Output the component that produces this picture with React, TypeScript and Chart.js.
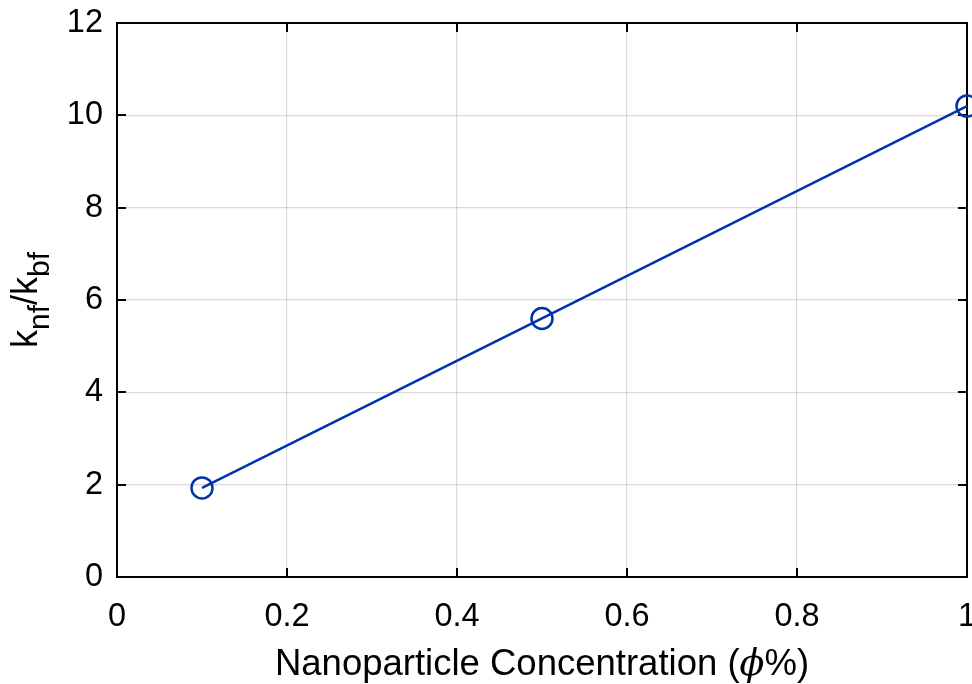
import React, { useEffect, useRef } from "react";
import { Chart, registerables } from "chart.js";

Chart.register(...registerables);

const concentrations = [0.1, 0.5, 1.0];
const ratios = [1.93, 5.6, 10.2];
const xTickValues = [0, 0.2, 0.4, 0.6, 0.8, 1];
const yTickValues = [0, 2, 4, 6, 8, 10, 12];
const xTitleParts = ["Nanoparticle Concentration (", "\u03D5", "%)"];
const yTitleParts = [
  { text: "k", sub: false },
  { text: "nf", sub: true },
  { text: "/k", sub: false },
  { text: "bf", sub: true },
];

const FONT = '"Liberation Sans", Arial, sans-serif';
const LINE_COLOR = "#0033AA";

const framePlugin = {
  id: "frame",
  beforeDatasetsDraw(chart: any) {
    const { ctx, chartArea, scales } = chart;
    const { left, right, top, bottom } = chartArea;
    const xs = scales.x;
    const ys = scales.y;
    ctx.save();
    ctx.strokeStyle = "#000";
    ctx.lineWidth = 2;
    ctx.beginPath();
    xs.ticks.forEach((t: any) => {
      const px = Math.round(xs.getPixelForValue(t.value));
      ctx.moveTo(px, bottom);
      ctx.lineTo(px, bottom - 9);
      ctx.moveTo(px, top);
      ctx.lineTo(px, top + 9);
    });
    ys.ticks.forEach((t: any) => {
      const py = Math.round(ys.getPixelForValue(t.value));
      ctx.moveTo(left, py);
      ctx.lineTo(left + 9, py);
      ctx.moveTo(right, py);
      ctx.lineTo(right - 9, py);
    });
    ctx.stroke();
    ctx.strokeRect(left, top, right - left, bottom - top);
    ctx.restore();
  },
  afterDraw(chart: any) {
    const { ctx, chartArea } = chart;
    const { left, right, top, bottom } = chartArea;
    ctx.save();
    ctx.fillStyle = "#000";
    ctx.textBaseline = "alphabetic";
    ctx.textAlign = "left";

    // X title
    const mainFont = `36.5px ${FONT}`;
    const phiFont = `italic 36.5px "DejaVu Serif", "Liberation Serif", serif`;
    const fonts = [mainFont, phiFont, mainFont];
    let total = 0;
    const widths = xTitleParts.map((p, i) => {
      ctx.font = fonts[i];
      const w = ctx.measureText(p).width;
      total += w;
      return w;
    });
    let cx = (left + right) / 2 - total / 2;
    const baseY = 675;
    xTitleParts.forEach((p, i) => {
      ctx.font = fonts[i];
      ctx.fillText(p, cx, baseY);
      cx += widths[i];
    });

    // Y title (rotated, with subscripts)
    const mainY = `36px ${FONT}`;
    const subY = `30px ${FONT}`;
    let tot = 0;
    const ws = yTitleParts.map((p) => {
      ctx.font = p.sub ? subY : mainY;
      const w = ctx.measureText(p.text).width;
      tot += w;
      return w;
    });
    ctx.translate(37, (top + bottom) / 2);
    ctx.rotate(-Math.PI / 2);
    let pos = -tot / 2;
    yTitleParts.forEach((p, i) => {
      ctx.font = p.sub ? subY : mainY;
      ctx.fillText(p.text, pos, p.sub ? 12 : 0);
      pos += ws[i];
    });
    ctx.restore();
  },
};

export default function App() {
  const canvasRef = useRef<HTMLCanvasElement>(null);

  useEffect(() => {
    const canvas = canvasRef.current;
    if (!canvas) return;
    const chart = new Chart(canvas, {
      type: "line",
      data: {
        datasets: [
          {
            data: concentrations.map((c, i) => ({ x: c, y: ratios[i] })),
            borderColor: LINE_COLOR,
            borderWidth: 2.5,
            pointRadius: 10.5,
            pointHoverRadius: 10.5,
            pointBorderWidth: 2.5,
            pointBorderColor: LINE_COLOR,
            pointBackgroundColor: "rgba(0,0,0,0)",
            tension: 0,
            fill: false,
            clip: false as any,
          },
        ],
      },
      options: {
        responsive: false,
        animation: false,
        layout: {
          autoPadding: false,
          padding: { top: 23, right: 5, left: 0, bottom: 0 },
        },
        plugins: {
          legend: { display: false },
          tooltip: { enabled: false },
          title: { display: false },
        },
        scales: {
          x: {
            type: "linear",
            min: 0,
            max: 1,
            afterBuildTicks: (s: any) => {
              s.ticks = xTickValues.map((v) => ({ value: v }));
            },
            afterFit: (s: any) => {
              s.height = 107;
              s.paddingLeft = 0;
              s.paddingRight = 0;
            },
            grid: {
              color: "rgba(38,38,38,0.17)",
              lineWidth: 1.2,
              drawTicks: false,
            },
            border: { display: false },
            ticks: {
              color: "#000",
              font: { family: FONT, size: 32.5 },
              padding: 21,
              maxRotation: 0,
              autoSkip: false,
              callback: (v: any) => String(v),
            },
          },
          y: {
            type: "linear",
            min: 0,
            max: 12,
            afterBuildTicks: (s: any) => {
              s.ticks = yTickValues.map((v) => ({ value: v }));
            },
            afterFit: (s: any) => {
              s.width = 117;
              s.paddingTop = 0;
              s.paddingBottom = 0;
            },
            grid: {
              color: "rgba(38,38,38,0.17)",
              lineWidth: 1.2,
              drawTicks: false,
            },
            border: { display: false },
            ticks: {
              color: "#000",
              font: { family: FONT, size: 32.5 },
              padding: 14,
              autoSkip: false,
              callback: (v: any) => String(v),
            },
          },
        },
      },
      plugins: [framePlugin],
    });
    return () => chart.destroy();
  }, []);

  return (
    <canvas
      ref={canvasRef}
      width={972}
      height={684}
      style={{ position: "absolute", left: 0, top: 0, display: "block" }}
    />
  );
}
